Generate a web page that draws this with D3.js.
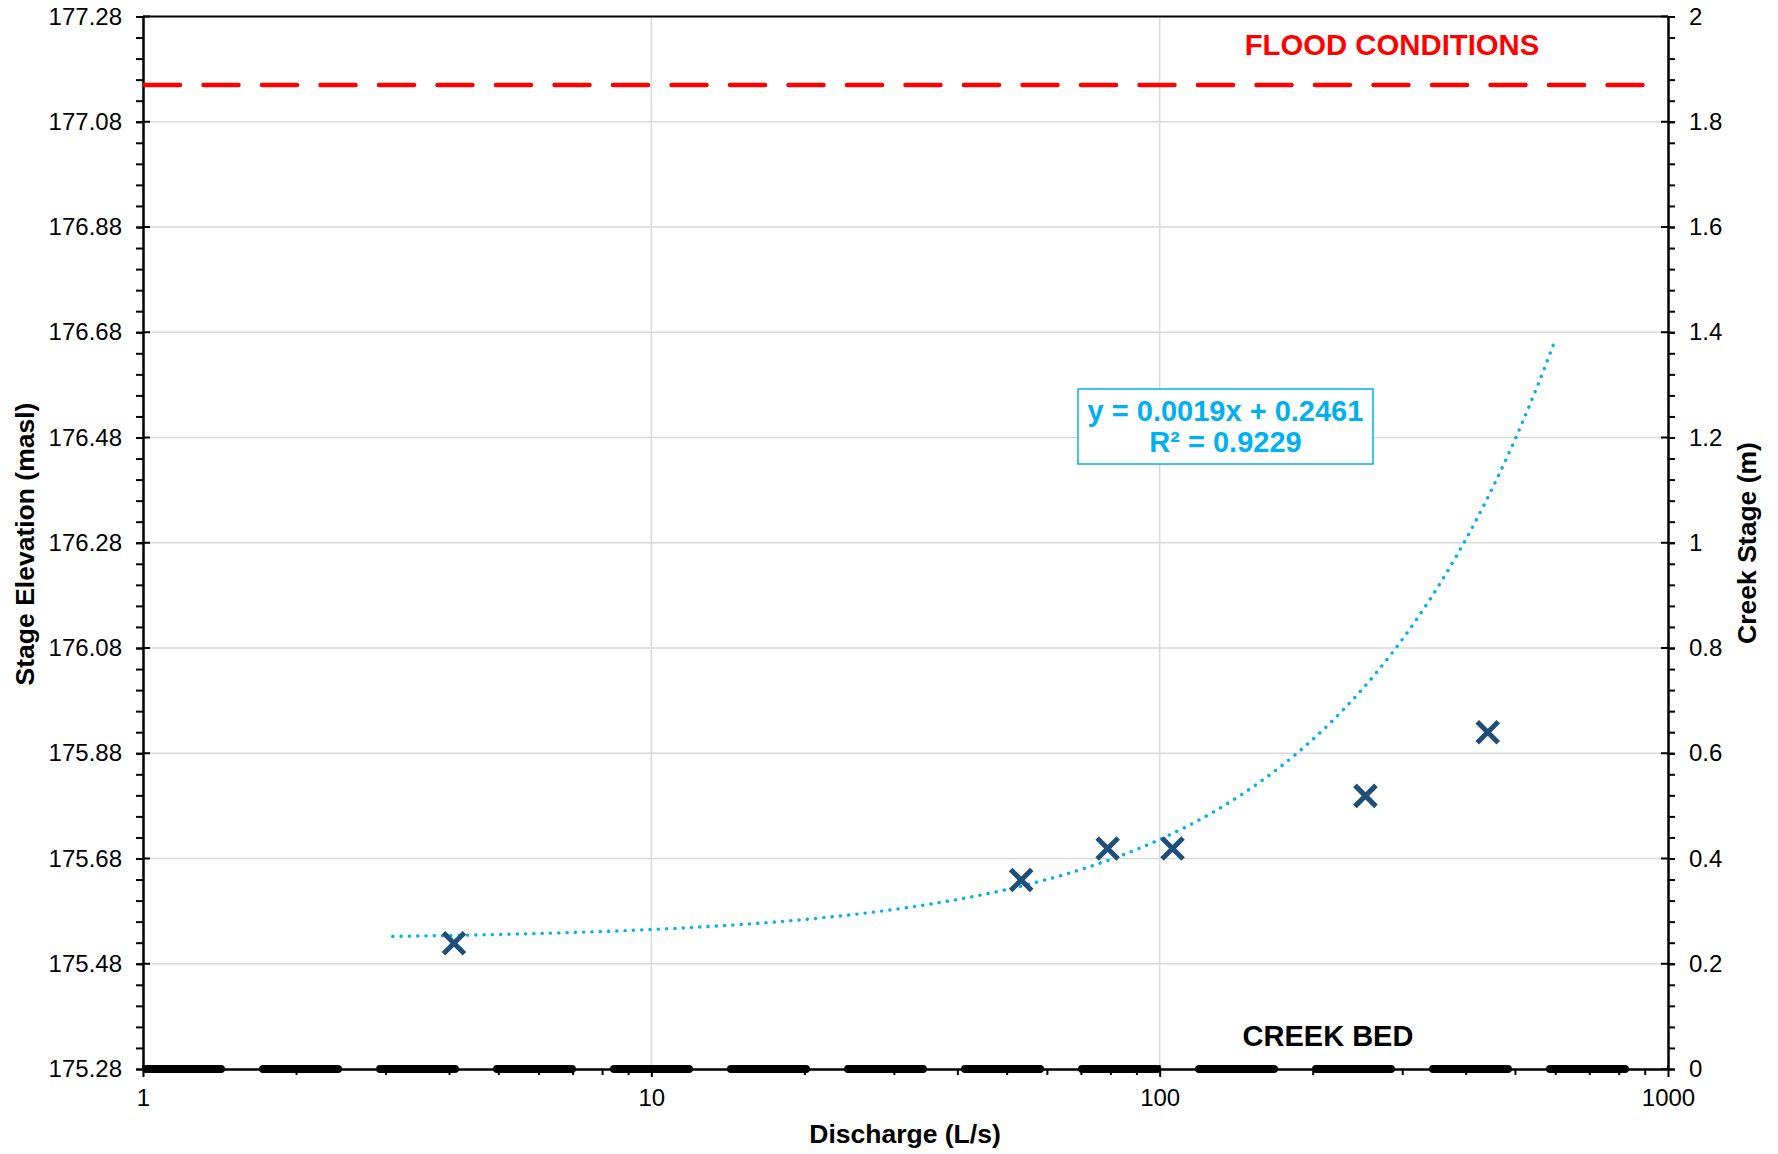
<!DOCTYPE html>
<html>
<head>
<meta charset="utf-8">
<script src="https://cdn.jsdelivr.net/npm/d3@7"></script>
<style>
  html, body { margin: 0; padding: 0; background: #fff; }
  svg { display: block; }
  text { font-family: "Liberation Sans", Arial, sans-serif; }
</style>
</head>
<body>
<svg id="chart" width="1778" height="1154"></svg>
<script>
// ---------------- DATA ----------------
const dischargeLs   = [4.09, 53.4, 79.0, 106, 254, 442];       // L/s
const creekStageM   = [0.239, 0.359, 0.419, 0.419, 0.519, 0.640]; // m
const trendSlope = 0.0019;
const trendIntercept = 0.2461;
const trendRangeLs = [3.1, 596];
const floodStageM = 1.87;
const floodRangeLs = [1, 905];
const creekBedM = 0;
const creekBedRangeLs = [1, 840];
const datumMasl = 175.28;
const xTicks = [1, 10, 100, 1000];
const yRightTicks = [0, 0.2, 0.4, 0.6, 0.8, 1, 1.2, 1.4, 1.6, 1.8, 2];
const yLeftTicks = yRightTicks.map(v => +(datumMasl + v).toFixed(2));
const equationLines = ["y = 0.0019x + 0.2461", "R² = 0.9229"];

// ---------------- LAYOUT ----------------
const svg = d3.select("#chart");
const L = 143, R = 1668, T = 16.5, B = 1069;
const fontFam = '"Liberation Sans", Arial, sans-serif';

const x = d3.scaleLog().domain([1, 1000]).range([L, R]);
const yR = d3.scaleLinear().domain([0, 2]).range([B, T]);
const yL = d3.scaleLinear().domain([datumMasl, datumMasl + 2]).range([B, T]);

// gridlines
const grid = svg.append("g");
grid.selectAll("line.h").data(yRightTicks.slice(1, -1)).join("line")
  .attr("x1", L).attr("x2", R)
  .attr("y1", d => yR(d)).attr("y2", d => yR(d))
  .attr("stroke", "#d9d9d9").attr("stroke-width", 1.5);
grid.selectAll("line.v").data([10, 100]).join("line")
  .attr("x1", d => x(d)).attr("x2", d => x(d))
  .attr("y1", T).attr("y2", B)
  .attr("stroke", "#d9d9d9").attr("stroke-width", 1.5);

// axes
function styleAxis(g) {
  g.selectAll("path.domain").attr("stroke", "#000").attr("stroke-width", 2);
  g.selectAll(".tick line").attr("stroke", "#000").attr("stroke-width", 2);
  g.selectAll(".tick text").attr("fill", "#000").style("font-size", "24px").style("font-family", fontFam);
}
const minorY = d3.range(0, 2.0001, 0.04).map(v => +v.toFixed(2));
const minorX = [];
[1, 10, 100].forEach(d => { for (let k = 2; k <= 9; k++) minorX.push(d * k); });

// left
svg.append("g").attr("transform", `translate(${L},0)`)
  .call(d3.axisLeft(yR).tickValues(minorY).tickSize(7).tickSizeOuter(0).tickFormat(""))
  .call(styleAxis);
svg.append("g").attr("transform", `translate(${L},0)`)
  .call(d3.axisLeft(yL).tickValues(yLeftTicks).tickSize(7).tickSizeOuter(0).tickPadding(14).tickFormat(d3.format(".2f")))
  .call(styleAxis);
svg.append("g").selectAll("line").data(yRightTicks).join("line")
  .attr("x1", L).attr("x2", L + 7).attr("y1", d => yR(d)).attr("y2", d => yR(d))
  .attr("stroke", "#000").attr("stroke-width", 2);

// right
svg.append("g").attr("transform", `translate(${R},0)`)
  .call(d3.axisRight(yR).tickValues(minorY).tickSize(7).tickSizeOuter(0).tickFormat(""))
  .call(styleAxis);
svg.append("g").attr("transform", `translate(${R},0)`)
  .call(d3.axisRight(yR).tickValues(yRightTicks).tickSize(7).tickSizeOuter(0).tickPadding(14).tickFormat(d => String(+d.toFixed(1))))
  .call(styleAxis);
svg.append("g").selectAll("line").data(yRightTicks).join("line")
  .attr("x1", R - 7).attr("x2", R).attr("y1", d => yR(d)).attr("y2", d => yR(d))
  .attr("stroke", "#000").attr("stroke-width", 2);

// bottom
svg.append("g").attr("transform", `translate(0,${B})`)
  .call(d3.axisBottom(x).tickValues(minorX).tickSize(6).tickSizeOuter(0).tickFormat(""))
  .call(styleAxis);
svg.append("g").attr("transform", `translate(0,${B})`)
  .call(d3.axisBottom(x).tickValues(xTicks).tickSize(8).tickSizeOuter(0).tickPadding(12).tickFormat(d3.format("d")))
  .call(styleAxis);
svg.append("g").selectAll("line").data(xTicks).join("line")
  .attr("x1", d => x(d)).attr("x2", d => x(d)).attr("y1", B - 4).attr("y2", B)
  .attr("stroke", "#000").attr("stroke-width", 2);

// top border
svg.append("line").attr("x1", L).attr("x2", R).attr("y1", T).attr("y2", T)
  .attr("stroke", "#000").attr("stroke-width", 2);

// creek bed dashed line
svg.append("line")
  .attr("x1", x(creekBedRangeLs[0]) + 3).attr("x2", x(creekBedRangeLs[1]))
  .attr("y1", yR(creekBedM)).attr("y2", yR(creekBedM))
  .attr("stroke", "#000").attr("stroke-width", 8)
  .attr("stroke-linecap", "round").attr("stroke-dasharray", "75,42");

// flood line
svg.append("line")
  .attr("x1", x(floodRangeLs[0]) + 2).attr("x2", x(floodRangeLs[1]))
  .attr("y1", yR(floodStageM)).attr("y2", yR(floodStageM))
  .attr("stroke", "#ff0000").attr("stroke-width", 4.5)
  .attr("stroke-linecap", "round").attr("stroke-dasharray", "35,23.5");

// trendline (from the displayed fitted equation)
const trendXs = d3.range(0, 301).map(i => trendRangeLs[0] * Math.pow(trendRangeLs[1] / trendRangeLs[0], i / 300));
const trendPts = trendXs.map(v => [v, trendSlope * v + trendIntercept]);
svg.append("path")
  .attr("d", d3.line().x(d => x(d[0])).y(d => yR(d[1]))(trendPts))
  .attr("fill", "none").attr("stroke", "#00b0f0").attr("stroke-width", 3.4)
  .attr("stroke-linecap", "round").attr("stroke-dasharray", "0.1,8.2");

// markers
const hs = 10.5;
svg.append("g").selectAll("path").data(dischargeLs.map((d, i) => [d, creekStageM[i]])).join("path")
  .attr("transform", d => `translate(${x(d[0])},${yR(d[1])})`)
  .attr("d", `M${-hs},${-hs}L${hs},${hs}M${-hs},${hs}L${hs},${-hs}`)
  .attr("stroke", "#1f4e79").attr("stroke-width", 5).attr("fill", "none");

// equation box
const eqG = svg.append("g");
eqG.append("rect").attr("x", 1078).attr("y", 389).attr("width", 295).attr("height", 75)
  .attr("fill", "#fff").attr("stroke", "#00b0f0").attr("stroke-width", 1.5);
eqG.selectAll("text").data(equationLines).join("text")
  .attr("x", 1225.5).attr("y", (d, i) => 421 + i * 31)
  .attr("text-anchor", "middle").attr("fill", "#00b0f0")
  .style("font-weight", "bold").style("font-size", "29px").text(d => d);

// labels
svg.append("text").attr("x", 1392).attr("y", 55).attr("text-anchor", "middle")
  .attr("fill", "#ff0000").style("font-weight", "bold").style("font-size", "29.3px")
  .text("FLOOD CONDITIONS");
svg.append("text").attr("x", 1328).attr("y", 1046).attr("text-anchor", "middle")
  .attr("fill", "#000").style("font-weight", "bold").style("font-size", "29px")
  .text("CREEK BED");

// axis titles
svg.append("text").attr("transform", "translate(34,544) rotate(-90)").attr("text-anchor", "middle")
  .style("font-weight", "bold").style("font-size", "26.5px").text("Stage Elevation (masl)");
svg.append("text").attr("transform", "translate(1756,543) rotate(-90)").attr("text-anchor", "middle")
  .style("font-weight", "bold").style("font-size", "26.5px").text("Creek Stage (m)");
svg.append("text").attr("x", 905).attr("y", 1143).attr("text-anchor", "middle")
  .style("font-weight", "bold").style("font-size", "26.5px").text("Discharge (L/s)");
</script>
</body>
</html>
